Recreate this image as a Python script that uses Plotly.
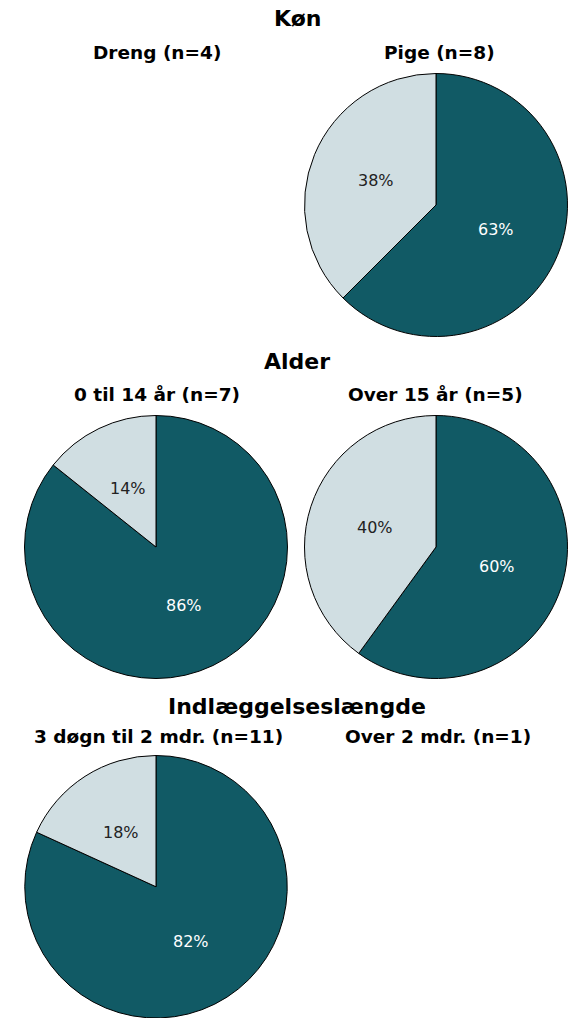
import math
import plotly.graph_objects as go

W, H = 578, 1018

section_titles = ["Køn", "Alder", "Indlæggelseslængde"]
group_labels = [
    ["Dreng (n=4)", "Pige (n=8)"],
    ["0 til 14 år (n=7)", "Over 15 år (n=5)"],
    ["3 døgn til 2 mdr. (n=11)", "Over 2 mdr. (n=1)"],
]
slice_labels = ["Ja", "Nej"]
# counts per group (None = suppressed, n < 5)
group_values = [
    [None, [5, 3]],
    [[6, 1], [3, 2]],
    [[9, 2], None],
]
colors = ["#115a65", "#d0dee2"]
text_colors = ["#ffffff", "#222222"]

# layout in pixels
col_cx = [156, 436]
row_cy = [205, 547, 887]
R = 131.5
title_y = [19, 361, 706]
sub_y = [52, 394.5, 736.5]
sub_x = [[157, 439], [157, 435], [158.5, 438]]
label_r = 0.49  # label distance from centre, as fraction of radius

fig = go.Figure()
annotations = []
for r in range(3):
    for c in range(2):
        vals = group_values[r][c]
        if vals is None:
            continue
        cx, cy = col_cx[c], row_cy[r]
        y0 = max(0.0, 1 - (cy + R) / H)
        y1 = min(1.0, 1 - (cy - R) / H)
        fig.add_trace(go.Pie(
            labels=slice_labels,
            values=vals,
            sort=False,
            direction="clockwise",
            rotation=0,
            domain=dict(x=[(cx - R) / W, (cx + R) / W], y=[y0, y1]),
            marker=dict(colors=colors, line=dict(color="#000000", width=1)),
            textinfo="none",
            hoverinfo="label+percent",
            showlegend=False,
        ))
        # percentage labels at half radius on each slice's bisector
        total = float(sum(vals))
        cum = 0.0
        for i, v in enumerate(vals):
            mid = (cum + v / 2.0) / total * 2 * math.pi
            cum += v
            px = cx + label_r * R * math.sin(mid)
            py = cy - label_r * R * math.cos(mid)
            annotations.append(dict(
                text="%d%%" % round(v / total * 100 + 1e-9),
                x=px / W, y=1 - py / H, xref="paper", yref="paper",
                xanchor="center", yanchor="middle", showarrow=False,
                font=dict(size=16, family="DejaVu Sans", color=text_colors[i])))

for r in range(3):
    annotations.append(dict(
        text="<b>%s</b>" % section_titles[r], x=297 / W, y=1 - title_y[r] / H,
        xref="paper", yref="paper", xanchor="center", yanchor="middle",
        showarrow=False, font=dict(size=22, family="DejaVu Sans", color="#000000")))
    for c in range(2):
        annotations.append(dict(
            text="<b>%s</b>" % group_labels[r][c], x=sub_x[r][c] / W, y=1 - sub_y[r] / H,
            xref="paper", yref="paper", xanchor="center", yanchor="middle",
            showarrow=False, font=dict(size=18.5, family="DejaVu Sans", color="#000000")))

fig.update_layout(
    width=W, height=H,
    margin=dict(l=0, r=0, t=0, b=0),
    paper_bgcolor="#ffffff", plot_bgcolor="#ffffff",
    annotations=annotations,
    font=dict(family="DejaVu Sans"),
)
fig.write_html("out.html", config={"displayModeBar": False},
               post_script="document.body.style.margin='0';")
